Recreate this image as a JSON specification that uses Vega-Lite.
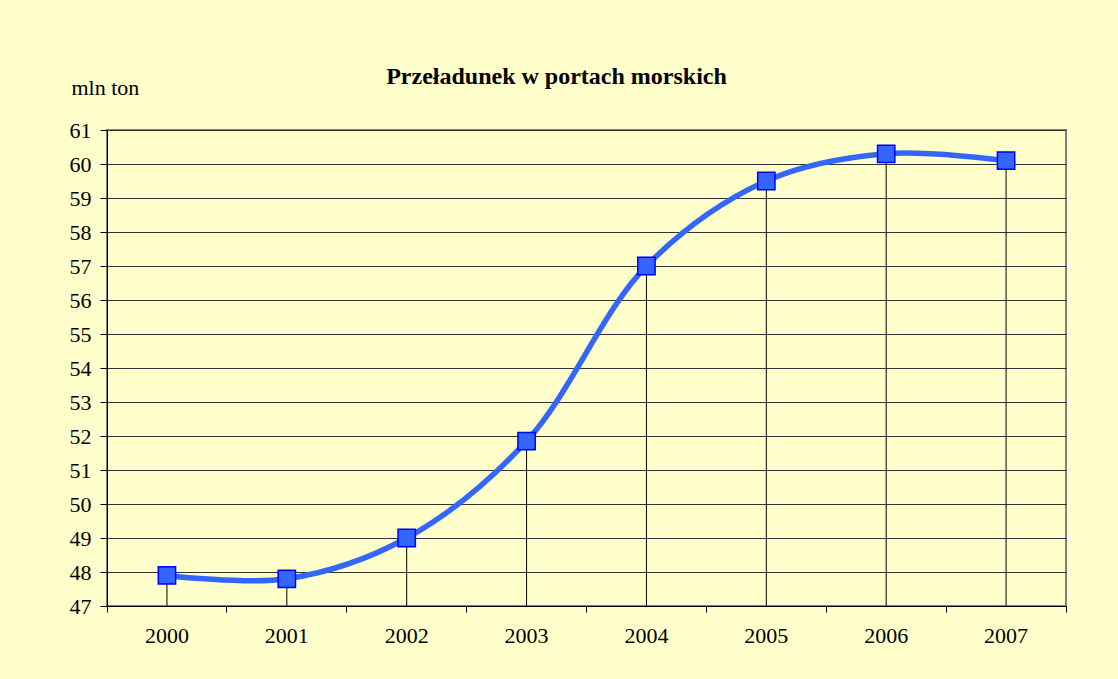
{
  "$schema": "https://vega.github.io/schema/vega-lite/v6.json",
  "width": 959,
  "height": 476,
  "autosize": {"type": "none"},
  "padding": {"left": 107, "top": 130, "right": 52, "bottom": 73},
  "background": "#FFFFCC",
  "title": {
    "text": "Przeładunek w portach morskich",
    "font": "Liberation Serif",
    "fontSize": 24,
    "fontWeight": "bold",
    "color": "#000000",
    "anchor": "middle",
    "dx": -30,
    "offset": -13
  },
  "config": {
    "view": {"stroke": "#808080", "strokeWidth": 2},
    "font": "Liberation Serif"
  },
  "data": {
    "values": [
      {"year": "2000", "value": 47.9},
      {"year": "2001", "value": 47.8},
      {"year": "2002", "value": 49.0},
      {"year": "2003", "value": 51.85},
      {"year": "2004", "value": 57.0},
      {"year": "2005", "value": 59.5},
      {"year": "2006", "value": 60.3},
      {"year": "2007", "value": 60.1}
    ]
  },
  "encoding": {
    "x": {
      "field": "year",
      "type": "ordinal",
      "scale": {"paddingInner": 0, "paddingOuter": 0},
      "axis": {
        "title": null,
        "labelAngle": 0,
        "labelFont": "Liberation Serif",
        "labelFontSize": 22,
        "labelColor": "#000000",
        "labelPadding": 13,
        "domainColor": "#000000",
        "domainWidth": 1,
        "tickColor": "#000000",
        "tickSize": 6,
        "bandPosition": 1,
        "tickExtra": true,
        "grid": false
      }
    },
    "y": {
      "field": "value",
      "type": "quantitative",
      "scale": {"domain": [47, 61], "nice": false, "zero": false},
      "axis": {
        "title": "mln ton",
        "titleAngle": 0,
        "titleAlign": "left",
        "titleBaseline": "middle",
        "titleFont": "Liberation Serif",
        "titleFontSize": 22,
        "titleFontWeight": "normal",
        "titleColor": "#000000",
        "titleX": -36,
        "titleY": -43,
        "values": [47, 48, 49, 50, 51, 52, 53, 54, 55, 56, 57, 58, 59, 60, 61],
        "labelFont": "Liberation Serif",
        "labelFontSize": 22,
        "labelColor": "#000000",
        "labelPadding": 9,
        "domainColor": "#000000",
        "tickColor": "#000000",
        "tickSize": 7,
        "grid": true,
        "gridColor": "#333333",
        "gridOpacity": 1,
        "gridWidth": 1
      }
    }
  },
  "layer": [
    {
      "mark": {"type": "rule", "color": "#000000", "strokeWidth": 1},
      "encoding": {
        "y2": {"datum": 47}
      }
    },
    {
      "mark": {"type": "line", "interpolate": "catmull-rom", "color": "#3366FF", "strokeWidth": 5.5},
      "encoding": {}
    },
    {
      "mark": {"type": "point", "shape": "square", "filled": true, "size": 300, "fill": "#3366FF", "stroke": "#0000FF", "strokeWidth": 1.5, "opacity": 1},
      "encoding": {}
    }
  ]
}
